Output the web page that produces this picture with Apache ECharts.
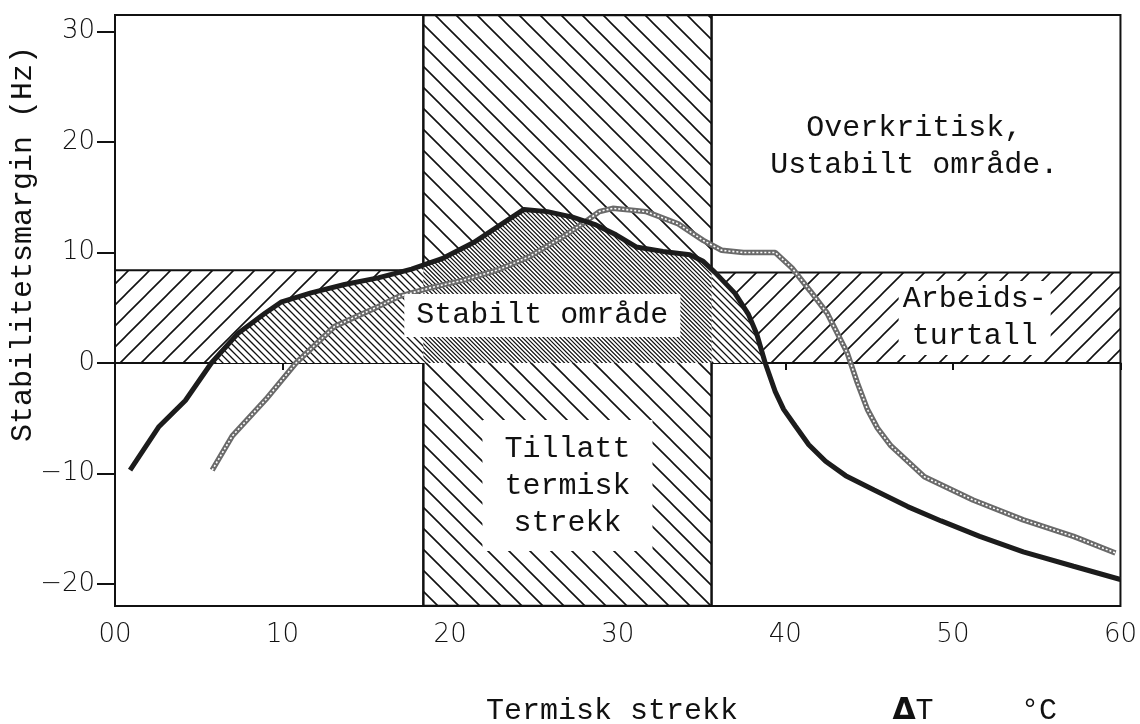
<!DOCTYPE html>
<html><head><meta charset="utf-8">
<script src="https://cdn.jsdelivr.net/npm/echarts@6/dist/echarts.min.js"></script>
<style>html,body{margin:0;padding:0;background:#fff}#c{width:1140px;height:724px}</style>
</head><body><div id="c"></div>
<script>
// ---- data ----
const xTicks = [0, 10, 20, 30, 40, 50, 60];
const yTicks = [-20, -10, 0, 10, 20, 30];
const xRange = [0, 60];
const yRange = [-22, 31.5];

// solid black curve
const blackX = [0.9, 2.6, 4.2, 5.75, 7.35, 8.95, 9.9, 11.7, 13.7, 15.7, 17.7, 19.6, 21.4, 22.8, 24.4, 25.8, 27.3, 28.7, 29.9, 31.1, 32.7, 34.3, 35.1, 35.8, 37.0, 37.8, 38.3, 38.8, 39.4, 39.9, 40.6, 41.4, 42.4, 43.6, 45.3, 47.3, 49.3, 51.6, 54.2, 57.2, 60.0];
const blackY = [-9.7, -5.8, -3.4, 0.0, 2.7, 4.5, 5.5, 6.35, 7.1, 7.7, 8.5, 9.5, 10.9, 12.3, 13.9, 13.7, 13.2, 12.5, 11.6, 10.5, 10.1, 9.8, 9.2, 8.2, 6.3, 4.4, 2.6, 0.0, -2.6, -4.2, -5.7, -7.4, -8.9, -10.2, -11.5, -13.0, -14.3, -15.7, -17.1, -18.4, -19.6];

// grey dotted curve
const greyX = [5.8, 7.0, 9.0, 10.8, 13.1, 15.7, 16.9, 18.8, 20.8, 22.8, 24.7, 26.7, 27.9, 28.9, 29.7, 31.7, 33.6, 35.1, 36.2, 37.5, 39.4, 40.4, 41.5, 42.5, 43.7, 44.3, 44.9, 45.5, 46.3, 48.3, 51.2, 54.2, 57.2, 59.7];
const greyY = [-9.7, -6.6, -3.3, 0.0, 3.3, 5.1, 6.0, 6.8, 7.5, 8.4, 9.6, 11.4, 12.6, 13.7, 14.0, 13.7, 12.6, 11.1, 10.2, 10.0, 10.0, 8.6, 6.5, 4.5, 0.9, -1.8, -4.2, -5.9, -7.5, -10.3, -12.4, -14.2, -15.7, -17.2];

// shaded regions
const thermalBand = [18.4, 35.6];      // Tillatt termisk strekk (x)
const workBandLeft = [0, 8.4];         // Arbeidsturtall (y), left of thermal band
const workBandRight = [0, 8.2];        // Arbeidsturtall (y), right of thermal band

// ---- helpers ----
function hatch(T, n, dir, lw) {
  const c = document.createElement('canvas');
  c.width = T; c.height = T;
  const g = c.getContext('2d');
  g.fillStyle = '#fff'; g.fillRect(0, 0, T, T);
  g.strokeStyle = '#111'; g.lineWidth = lw;
  g.beginPath();
  for (let k = -n - 1; k <= n + 1; k++) {
    const x0 = k * T / n;
    if (dir === 'back') { g.moveTo(x0 - 3, -3); g.lineTo(x0 + T + 3, T + 3); }
    else { g.moveTo(x0 - 3, T + 3); g.lineTo(x0 + T + 3, -3); }
  }
  g.stroke();
  return { image: c, repeat: 'repeat' };
}
const patBand = hatch(21, 1, 'back', 1.6);
const patWork = hatch(21, 1, 'fwd', 1.6);
const patStable = hatch(21, 3, 'back', 1.3);
const patStableIn = hatch(21, 5, 'back', 1.2);

function pts(xs, ys) { return xs.map((x, i) => [x, ys[i]]); }
function lerp(a, b, t) { return [a[0] + (b[0] - a[0]) * t, a[1] + (b[1] - a[1]) * t]; }
function stablePolygon(p, lo, hi) {
  const out = [];
  for (let i = 0; i < p.length; i++) {
    if (i > 0) {
      const q = p[i - 1];
      if ((q[1] < 0) !== (p[i][1] < 0) && q[1] !== p[i][1]) out.push(lerp(q, p[i], -q[1] / (p[i][1] - q[1])));
    }
    out.push(p[i]);
  }
  const res = [];
  for (let i = 0; i < out.length; i++) {
    if (i > 0) {
      const q = out[i - 1];
      for (const b of [lo, hi]) if ((q[0] - b) * (out[i][0] - b) < 0) res.push(lerp(q, out[i], (b - q[0]) / (out[i][0] - q[0])));
    }
    if (out[i][0] >= lo && out[i][0] <= hi) res.push(out[i]);
  }
  const poly = res.map(v => [v[0], Math.max(0, v[1])]);
  poly.push([poly[poly.length - 1][0], 0], [poly[0][0], 0]);
  return poly;
}
function polySeries(name, poly, fill, stroke, lw, z) {
  return {
    type: 'custom', name, z, silent: true, clip: true, data: [[poly[0][0], poly[0][1]]],
    renderItem: (params, api) => ({
      type: 'polygon',
      shape: { points: poly.map(v => api.coord(v)) },
      style: { fill, stroke: stroke || null, lineWidth: lw || 0 }
    })
  };
}

const blackPts = pts(blackX, blackY);
const greyPts = pts(greyX, greyY);

const vBand = [[thermalBand[0], yRange[1]], [thermalBand[1], yRange[1]], [thermalBand[1], yRange[0]], [thermalBand[0], yRange[0]]];
const hBandL = [[xRange[0], workBandLeft[1]], [thermalBand[0], workBandLeft[1]], [thermalBand[0], workBandLeft[0]], [xRange[0], workBandLeft[0]]];
const hBandR = [[thermalBand[1], workBandRight[1]], [xRange[1], workBandRight[1]], [xRange[1], workBandRight[0]], [thermalBand[1], workBandRight[0]]];
const stableAll = stablePolygon(blackPts, xRange[0], xRange[1]);
const stableIn = stablePolygon(blackPts, thermalBand[0], thermalBand[1]);

const mono = "'Liberation Mono', 'DejaVu Sans Mono', monospace";
const tickFont = "'DejaVu Sans', sans-serif";

const chart = echarts.init(document.getElementById('c'), null, { renderer: 'canvas' });
chart.setOption({
  animation: false,
  backgroundColor: '#fff',
  grid: { left: 115, right: 15, top: 15, bottom: 118, show: true, borderColor: '#111', borderWidth: 2, backgroundColor: '#fff' },
  xAxis: {
    type: 'value', min: xRange[0], max: xRange[1], interval: 10,
    axisLine: { show: true, lineStyle: { color: '#111', width: 2 } },
    axisTick: { show: true, length: 7, lineStyle: { color: '#111', width: 2 } },
    axisLabel: { color: '#111', fontSize: 26, fontFamily: tickFont, fontWeight: 300, margin: 16,
      formatter: v => (v === 0 ? '00' : String(v)) },
    splitLine: { show: false }
  },
  yAxis: {
    type: 'value', min: yRange[0], max: yRange[1],
    axisLine: { show: true, lineStyle: { color: '#111', width: 2 } },
    axisTick: { show: true, length: 18, customValues: yTicks, lineStyle: { color: '#111', width: 2 } },
    axisLabel: { color: '#111', fontSize: 26, fontFamily: tickFont, fontWeight: 300, margin: 20, customValues: yTicks,
      formatter: v => (v < 0 ? '\u2212' + Math.abs(v) : String(v)) },
    splitLine: { show: false }
  },
  series: [
    polySeries('Arbeidsturtall L', hBandL, patWork, '#111', 2, 1),
    polySeries('Arbeidsturtall R', hBandR, patWork, '#111', 2, 1),
    polySeries('Tillatt termisk strekk', vBand, patBand, '#111', 2.5, 2),
    polySeries('Stabilt område', stableAll, patStable, null, 0, 3),
    polySeries('Stabilt område (band)', stableIn, patStableIn, null, 0, 3),
    { type: 'line', name: 'grey', data: greyPts, showSymbol: false, z: 5, silent: true,
      lineStyle: { color: '#6a6a6a', width: 5.5 } },
    { type: 'line', name: 'grey-tex', data: greyPts, showSymbol: false, z: 6, silent: true,
      lineStyle: { color: '#fff', width: 1.6, type: [2, 2] } },
    { type: 'line', name: 'black', data: blackPts, showSymbol: false, z: 7, silent: true,
      lineStyle: { color: '#1c1c1c', width: 5 } }
  ]
});

// annotations (positions in data coordinates)
const notes = [
  { text: 'Stabilt område', at: [25.5, 4.3], bg: true, pad: [3, 12] },
  { text: 'Tillatt\ntermisk\nstrekk', at: [27.0, -11.1], bg: true, pad: [10, 22] },
  { text: 'Overkritisk,\nUstabilt område.', at: [47.7, 19.6], bg: false, pad: 0 },
  { text: 'Arbeids-\nturtall', at: [51.3, 4.07], bg: true, pad: [0, 4] }
];
const g = notes.map(n => {
  const p = chart.convertToPixel({ gridIndex: 0 }, n.at);
  return { type: 'text', x: p[0], y: p[1], z: 50, silent: true,
    style: { text: n.text, font: 'normal 30px ' + mono, fill: '#111', align: 'center', verticalAlign: 'middle',
      lineHeight: 37, backgroundColor: n.bg ? '#fff' : null, padding: n.pad } };
});
g.push({ type: 'text', x: 23, y: 244, rotation: Math.PI / 2, z: 50, silent: true,
  style: { text: 'Stabilitetsmargin (Hz)', font: 'normal 30px ' + mono, fill: '#111', align: 'center', verticalAlign: 'middle' } });
g.push({ type: 'text', x: 612, y: 711, z: 50, silent: true,
  style: { text: 'Termisk strekk', font: 'normal 30px ' + mono, fill: '#111', align: 'center', verticalAlign: 'middle' } });
g.push({ type: 'text', x: 913, y: 711, z: 50, silent: true,
  style: { text: '{d|\u0394}{t|T}', fill: '#111', align: 'center', verticalAlign: 'middle',
    rich: { d: { font: 'bold 30px DejaVu Sans', fill: '#111' }, t: { font: 'normal 30px ' + mono, fill: '#111' } } } });
g.push({ type: 'text', x: 1039, y: 711, z: 50, silent: true,
  style: { text: '\u00b0C', font: 'normal 30px ' + mono, fill: '#111', align: 'center', verticalAlign: 'middle' } });
chart.setOption({ graphic: { elements: g } });
</script></body></html>
